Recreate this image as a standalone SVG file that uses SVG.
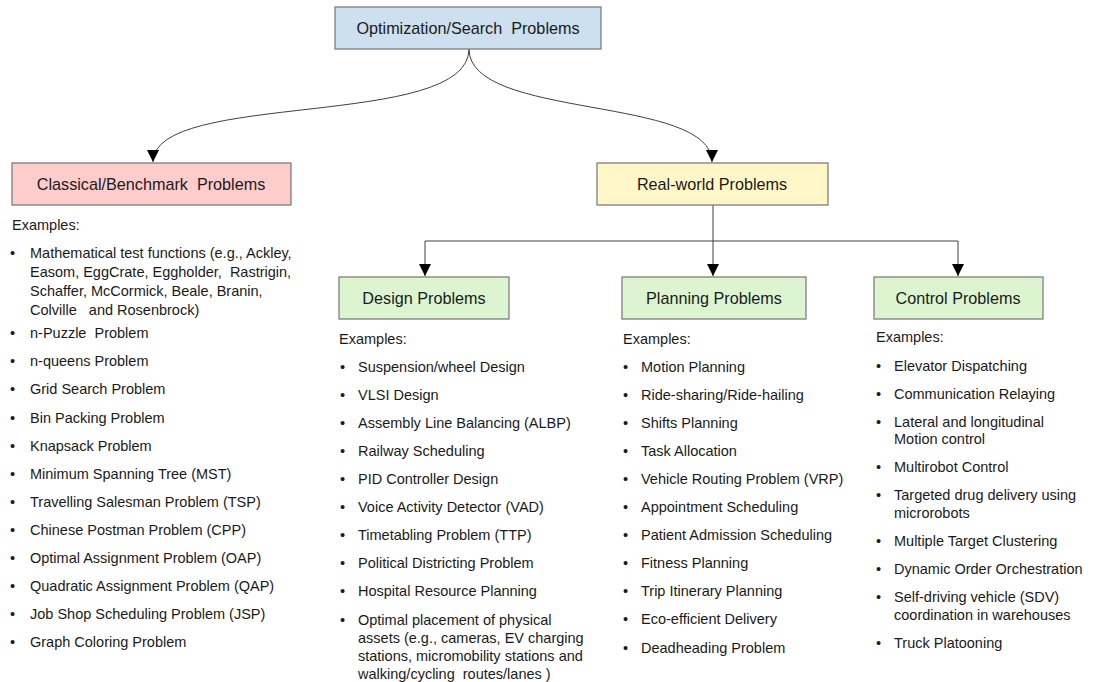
<svg xmlns="http://www.w3.org/2000/svg" width="1099" height="682" viewBox="0 0 1099 682" xml:space="preserve">
  <style>
    .box { stroke: #7f7f7f; stroke-width: 1.3; }
    .title { font-family: "Liberation Sans", Arial, sans-serif; font-size: 16.2px; fill: #1a1a1a; text-anchor: middle; white-space: pre; }
    .txt { font-family: "Liberation Sans", Arial, sans-serif; font-size: 14.5px; fill: #1a1a1a; white-space: pre; }
    .conn { fill: none; stroke: #404040; stroke-width: 1; }
  </style>
  <defs>
    <marker id="arrow" viewBox="0 0 10 10" refX="10" refY="5" markerWidth="12" markerHeight="12" markerUnits="userSpaceOnUse" orient="auto">
      <path d="M0,0 L10,5 L0,10 Z" fill="#000"/>
    </marker>
  </defs>
  <rect width="1099" height="682" fill="#fff"/>

  <!-- connectors -->
  <g id="connectors">
    <path class="conn" d="M469,49 C469,130 153,90 153,162" marker-end="url(#arrow)"/>
    <path class="conn" d="M469,49 C469,120 712,95 712,162" marker-end="url(#arrow)"/>
    <path class="conn" d="M713,205 L713,276" marker-end="url(#arrow)"/>
    <path class="conn" d="M713,241 L425,241 L425,276" marker-end="url(#arrow)"/>
    <path class="conn" d="M713,241 L958,241 L958,276" marker-end="url(#arrow)"/>
  </g>

  <g id="root">
    <rect class="box" x="335" y="7" width="266" height="42" fill="#cce0ef"/>
    <text class="title" x="468" y="34">Optimization/Search&#160; Problems</text>
  </g>

  <g id="classical">
    <rect class="box" x="12" y="163" width="279" height="42" fill="#ffcccc"/>
    <text class="title" x="151" y="190">Classical/Benchmark&#160; Problems</text>
    <text class="txt" x="12" y="230">Examples:</text>
    <g class="txt">
      <text x="10" y="258">•</text><text x="30" y="258">Mathematical test functions (e.g., Ackley,</text>
      <text x="30" y="277">Easom, EggCrate, Eggholder,&#160; Rastrigin,</text>
      <text x="30" y="296">Schaffer, McCormick, Beale, Branin,</text>
      <text x="30" y="315">Colville&#160;&#160; and Rosenbrock)</text>
      <text x="10" y="338">•</text><text x="30" y="338">n-Puzzle&#160; Problem</text>
      <text x="10" y="366">•</text><text x="30" y="366">n-queens Problem</text>
      <text x="10" y="394">•</text><text x="30" y="394">Grid Search Problem</text>
      <text x="10" y="423">•</text><text x="30" y="423">Bin Packing Problem</text>
      <text x="10" y="451">•</text><text x="30" y="451">Knapsack Problem</text>
      <text x="10" y="479">•</text><text x="30" y="479">Minimum Spanning Tree (MST)</text>
      <text x="10" y="507">•</text><text x="30" y="507">Travelling Salesman Problem (TSP)</text>
      <text x="10" y="535">•</text><text x="30" y="535">Chinese Postman Problem (CPP)</text>
      <text x="10" y="563">•</text><text x="30" y="563">Optimal Assignment Problem (OAP)</text>
      <text x="10" y="591">•</text><text x="30" y="591">Quadratic Assignment Problem (QAP)</text>
      <text x="10" y="619">•</text><text x="30" y="619">Job Shop Scheduling Problem (JSP)</text>
      <text x="10" y="647">•</text><text x="30" y="647">Graph Coloring Problem</text>
    </g>
  </g>

  <g id="realworld">
    <rect class="box" x="597" y="163" width="231" height="42" fill="#fff7c8"/>
    <text class="title" x="712" y="190">Real-world Problems</text>
  </g>

  <g id="design">
    <rect class="box" x="339" y="277" width="170" height="42" fill="#dcf5d0"/>
    <text class="title" x="424" y="304">Design Problems</text>
    <text class="txt" x="339" y="344">Examples:</text>
    <g class="txt">
      <text x="340" y="372">•</text><text x="358" y="372">Suspension/wheel Design</text>
      <text x="340" y="400">•</text><text x="358" y="400">VLSI Design</text>
      <text x="340" y="428">•</text><text x="358" y="428">Assembly Line Balancing (ALBP)</text>
      <text x="340" y="456">•</text><text x="358" y="456">Railway Scheduling</text>
      <text x="340" y="484">•</text><text x="358" y="484">PID Controller Design</text>
      <text x="340" y="512">•</text><text x="358" y="512">Voice Activity Detector (VAD)</text>
      <text x="340" y="540">•</text><text x="358" y="540">Timetabling Problem (TTP)</text>
      <text x="340" y="568">•</text><text x="358" y="568">Political Districting Problem</text>
      <text x="340" y="596">•</text><text x="358" y="596">Hospital Resource Planning</text>
      <text x="340" y="625">•</text><text x="358" y="625">Optimal placement of physical</text>
      <text x="358" y="643">assets (e.g., cameras, EV charging</text>
      <text x="358" y="661">stations, micromobility stations and</text>
      <text x="358" y="679">walking/cycling&#160; routes/lanes )</text>
    </g>
  </g>

  <g id="planning">
    <rect class="box" x="622" y="277" width="184" height="42" fill="#dcf5d0"/>
    <text class="title" x="714" y="304">Planning Problems</text>
    <text class="txt" x="623" y="344">Examples:</text>
    <g class="txt">
      <text x="623" y="372">•</text><text x="641" y="372">Motion Planning</text>
      <text x="623" y="400">•</text><text x="641" y="400">Ride-sharing/Ride-hailing</text>
      <text x="623" y="428">•</text><text x="641" y="428">Shifts Planning</text>
      <text x="623" y="456">•</text><text x="641" y="456">Task Allocation</text>
      <text x="623" y="484">•</text><text x="641" y="484">Vehicle Routing Problem (VRP)</text>
      <text x="623" y="512">•</text><text x="641" y="512">Appointment Scheduling</text>
      <text x="623" y="540">•</text><text x="641" y="540">Patient Admission Scheduling</text>
      <text x="623" y="568">•</text><text x="641" y="568">Fitness Planning</text>
      <text x="623" y="596">•</text><text x="641" y="596">Trip Itinerary Planning</text>
      <text x="623" y="624">•</text><text x="641" y="624">Eco-efficient Delivery</text>
      <text x="623" y="653">•</text><text x="641" y="653">Deadheading Problem</text>
    </g>
  </g>

  <g id="control">
    <rect class="box" x="874" y="277" width="169" height="42" fill="#dcf5d0"/>
    <text class="title" x="958" y="304">Control Problems</text>
    <text class="txt" x="876" y="342">Examples:</text>
    <g class="txt">
      <text x="876" y="371">•</text><text x="894" y="371">Elevator Dispatching</text>
      <text x="876" y="399">•</text><text x="894" y="399">Communication Relaying</text>
      <text x="876" y="427">•</text><text x="894" y="427">Lateral and longitudinal</text>
      <text x="894" y="444">Motion control</text>
      <text x="876" y="472">•</text><text x="894" y="472">Multirobot Control</text>
      <text x="876" y="500">•</text><text x="894" y="500">Targeted drug delivery using</text>
      <text x="894" y="518">microrobots</text>
      <text x="876" y="546">•</text><text x="894" y="546">Multiple Target Clustering</text>
      <text x="876" y="574">•</text><text x="894" y="574">Dynamic Order Orchestration</text>
      <text x="876" y="602">•</text><text x="894" y="602">Self-driving vehicle (SDV)</text>
      <text x="894" y="620">coordination in warehouses</text>
      <text x="876" y="648">•</text><text x="894" y="648">Truck Platooning</text>
    </g>
  </g>
</svg>
